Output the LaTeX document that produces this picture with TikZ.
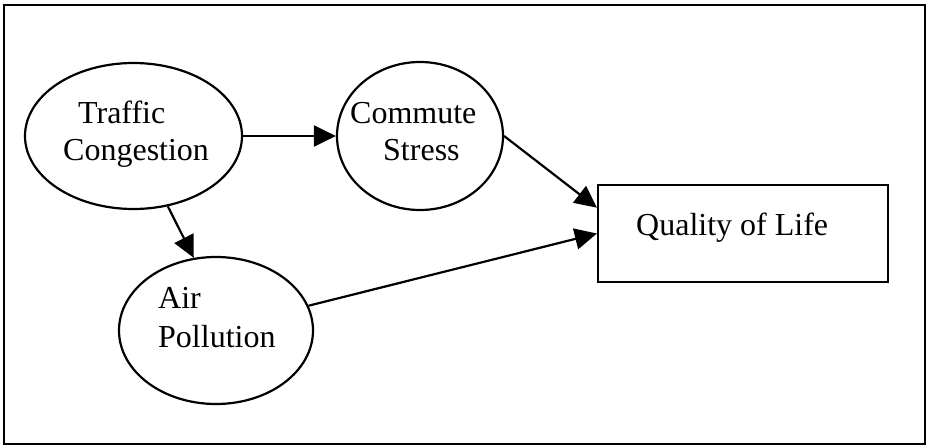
\documentclass[tikz,border=0pt]{standalone}
\usepackage{fontspec}
\setmainfont{Liberation Serif}
\usetikzlibrary{shapes.geometric,arrows.meta,calc}

\tikzset{
  var/.style={draw, ellipse, line width=2.2pt, inner sep=0pt},
  outcome/.style={draw, rectangle, line width=2.2pt, inner sep=0pt},
  lbl/.style={anchor=base west, inner sep=0pt, font=\fontsize{32}{37}\selectfont},
  link/.style={line width=2.2pt, -{Triangle[length=22pt,width=21pt]}},
  frame/.style={line width=1.6pt}
}

\begin{document}
\begin{tikzpicture}[x=1pt,y=-1pt]
  \useasboundingbox (0,0) rectangle (927,447);
  \draw[frame] (4,5) rectangle (925,444);

  % variables
  \node[var, minimum width=217pt, minimum height=146pt] (tc) at (133.5,136) {};
  \node[var, minimum width=166pt, minimum height=148pt] (cs) at (420,136) {};
  \node[var, minimum width=194pt, minimum height=147pt] (ap) at (216,330.5) {};
  \node[outcome, minimum width=290pt, minimum height=97pt] (ql) at (743,233.5) {};

  % labels
  \node[lbl] (tc1) at (78,123) {Traffic};
  \node[lbl] (tc2) at (63,160) {Congestion};
  \node[lbl] (cs1) at (350,123) {Commute};
  \node[lbl] (cs2) at (383,160) {Stress};
  \node[lbl] (ap1) at (158,308) {Air};
  \node[lbl] (ap2) at (158,347) {Pollution};
  \node[lbl] (ql1) at (636,235) {Quality of Life};

  % paths
  \draw[link] (tc.east) -- (cs.west);
  \draw[link] (tc.-64) -- (ap.107);
  \draw[link] (cs.east) -- ($(ql.north west)!0.24!(ql.south west)$);
  \draw[link] (ap.15) -- (ql.west);
\end{tikzpicture}
\end{document}
